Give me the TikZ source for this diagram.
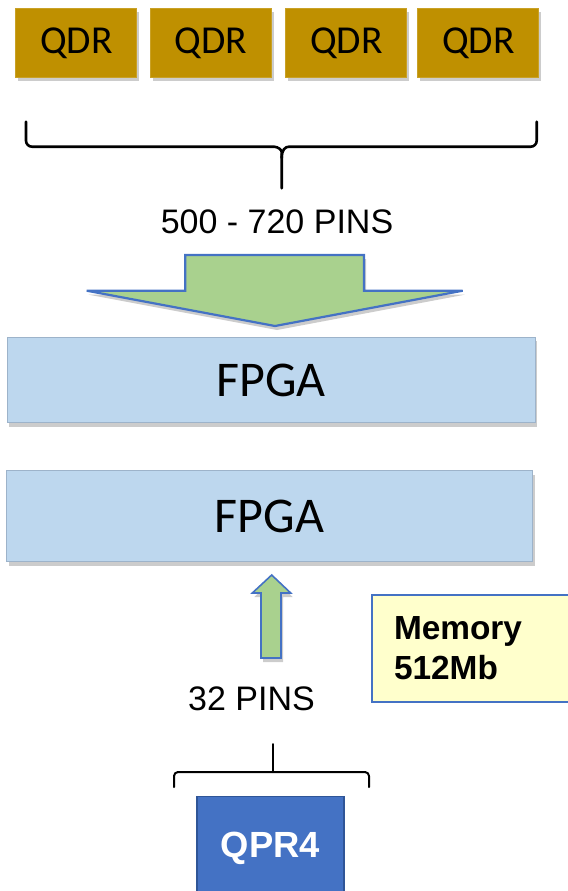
\documentclass[tikz,border=0pt]{standalone}
\usepackage{fontspec}
\setmainfont{Liberation Sans}
\newfontfamily\calibri{Carlito}
\usetikzlibrary{shadows}

\definecolor{qdrgold}{HTML}{BF9000}
\definecolor{fpgablue}{HTML}{BDD7EE}
\definecolor{fpgaline}{HTML}{9DB3CA}
\definecolor{arrowgreen}{HTML}{A9D18E}
\definecolor{arrowline}{HTML}{4472C4}
\definecolor{memyellow}{HTML}{FFFFCC}
\definecolor{qprblue}{HTML}{4472C4}
\definecolor{qprline}{HTML}{2F5597}

\tikzset{
  softshadow/.style={drop shadow={shadow xshift=1pt, shadow yshift=-2pt, fill=black, opacity=0.2}},
  qdr/.style={rectangle, fill=qdrgold, draw=qdrgold!85!white, line width=0.4pt,
    minimum width=60.5pt, minimum height=34.5pt, inner sep=0pt,
    font=\calibri\fontsize{19.8}{22}\selectfont, softshadow},
  fpga/.style={rectangle, fill=fpgablue, draw=fpgaline, line width=0.5pt, inner sep=0pt,
    font=\calibri\fontsize{25}{28}\selectfont, softshadow},
  pins/.style={font=\fontsize{17}{20}\selectfont, inner sep=0pt},
  brace/.style={line width=1.3pt, line cap=round, line join=round},
  fatarrow/.style={fill=arrowgreen, draw=arrowline, line width=1.1pt, line join=miter, softshadow},
  membox/.style={rectangle, fill=memyellow, draw=arrowline, line width=1pt,
    text width=82pt, align=left, inner xsep=11pt, inner ysep=0pt, minimum height=53.2pt,
    font=\bfseries\fontsize{16.7}{20}\selectfont},
  qprbox/.style={rectangle, fill=qprblue, draw=qprline, line width=0.8pt, inner sep=0pt,
    minimum width=73.6pt, minimum height=52.3pt, text=white,
    font=\bfseries\fontsize{18.2}{20}\selectfont},
}

\begin{document}
\begin{tikzpicture}[x=0.5pt, y=-0.5pt]
    \clip (0,0) rectangle (568,891);

    % QDR memories
    \node[qdr] (qdr1) at (76.3,42.8) {QDR};
    \node[qdr] (qdr2) at (211.2,42.8) {QDR};
    \node[qdr] (qdr3) at (346.3,42.8) {QDR};
    \node[qdr] (qdr4) at (478.3,42.8) {QDR};

    % Brace under the QDRs
    \coordinate (qtip) at (281.7,188.3);
    \draw[brace, rounded corners=3pt] (26,121.7) -- (26,146.7) -- (268,146.7)
        .. controls (278,146.7) and (281.7,150) .. (281.7,158) -- (qtip);
    \draw[brace, rounded corners=3pt] (536.7,121.7) -- (536.7,146.7) -- (295,146.7)
        .. controls (285,146.7) and (281.7,150) .. (281.7,158);
    \node[pins, anchor=base] (toppins) at (277,233.3) {500 - 720 PINS};

    % Wide arrow into the first FPGA
    \filldraw[fatarrow] (185.3,255) -- (364,255) -- (364,290.7) -- (462.7,290.7)
        -- (275,326) -- (86.7,290.7) -- (185.3,290.7) -- cycle;

    % FPGAs
    \node[fpga, minimum width=264.2pt, minimum height=42.7pt] (fpga1) at (271.2,380) {FPGA};
    \node[fpga, minimum width=263pt, minimum height=45.5pt] (fpga2) at (269.5,516.2) {FPGA};

    % Small arrow into the second FPGA
    \filldraw[fatarrow, line width=0.8pt] (261,658) -- (261,593) -- (252.3,593) -- (271.7,575)
        -- (290.7,593) -- (281,593) -- (281,658) -- cycle;
    \node[pins, anchor=base] (botpins) at (251.5,710) {32 PINS};

    % Memory
    \node[membox, anchor=north west] (mem) at (371,594.3) {Memory\\512Mb};

    % Brace over the QPR4
    \draw[brace, line width=1pt, rounded corners=2pt] (174,787) |- (369,772) -- (369,787);
    \draw[brace, line width=1pt] (272.7,772) -- (272.7,744);

    % QPR4
    \node[qprbox, anchor=north] (qpr) at (270.4,795.7) {QPR4};
\end{tikzpicture}
\end{document}
